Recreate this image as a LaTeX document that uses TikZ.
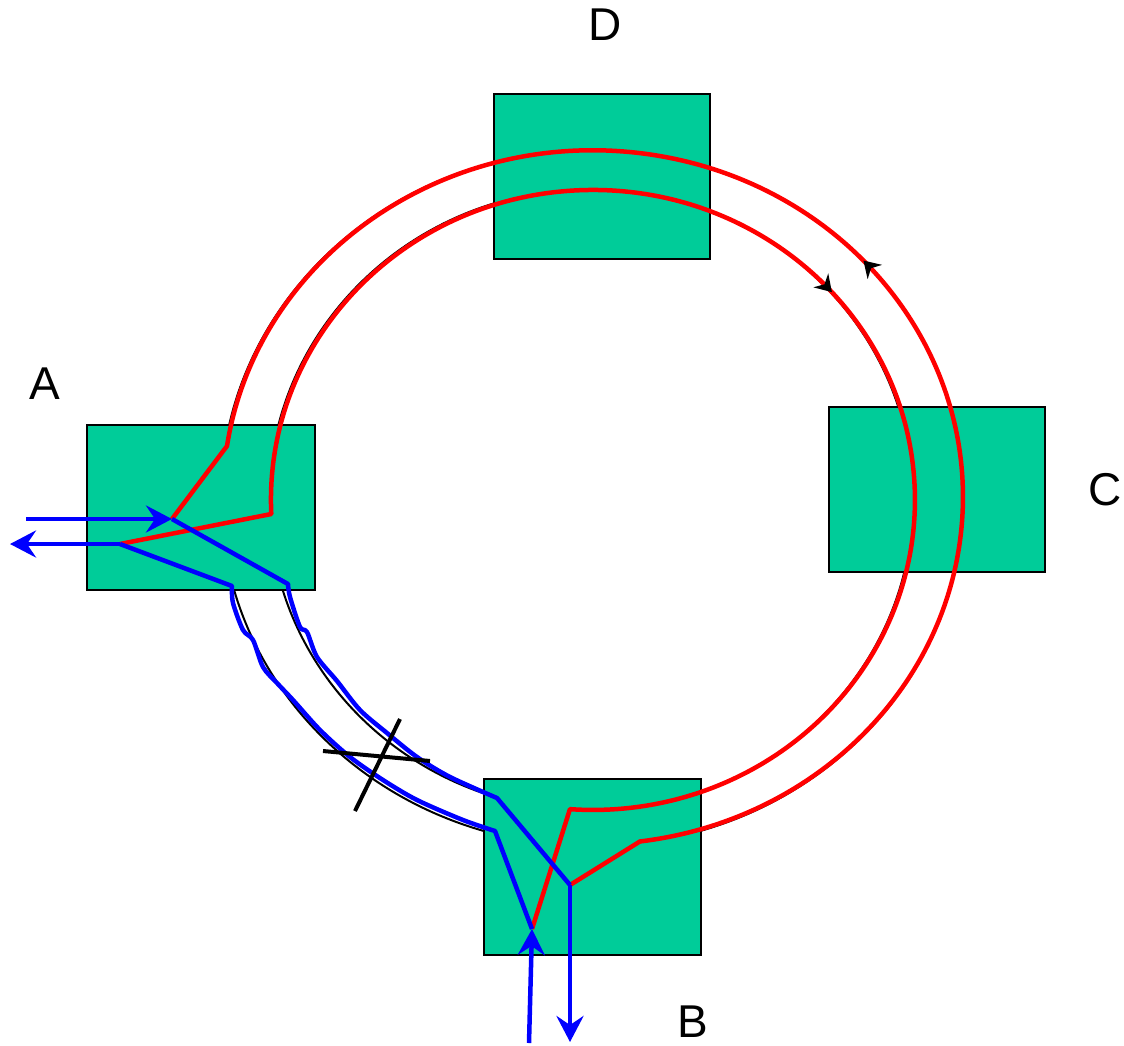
\documentclass[tikz,border=0pt]{standalone}
\usepackage{fontspec}
\setmainfont{Liberation Sans}
\usepackage{tikz}
\usetikzlibrary{
    calc,
    arrows.meta,
    decorations.markings
}
\definecolor{stationgreen}{RGB}{0,204,153}
\tikzset{
    station/.style={draw=black, line width=2.5pt, fill=stationgreen, inner sep=0pt,
        minimum width=216pt, minimum height=165pt},
    stationname/.style={font=\fontsize{46}{50}\selectfont, inner sep=0pt},
    ring/.style={black, line width=2pt},
    beam/.style={red, line width=4.5pt, line join=round},
    feed/.style={blue, line width=4.5pt, line join=round},
    feedarrow/.style={feed, -{Stealth[length=26pt, width=27pt, inset=9pt]}},
    marker/.style={black, line width=4pt}
}

\begin{document}
\begin{tikzpicture}[x=1pt, y=-1pt]
    \useasboundingbox (0,0) rectangle (1124,1045);

    % edges of the ring, mostly under the beams
    \draw[ring] (592,498) ellipse[x radius=371, y radius=348];
    \draw[ring] (591,500) ellipse[x radius=322, y radius=311];

    \node[station, minimum width=228pt] (A) at (201,507.5) {};
    \node[station, minimum width=217pt, minimum height=176pt] (B) at (592.5,867) {};
    \node[station] (C) at (937,489.5) {};
    \node[station] (D) at (602,176.5) {};

    \draw (45,384) node[stationname] (nameA) {A};
    \draw (692.5,1021.5) node[stationname] (nameB) {B};
    \draw (1105,490) node[stationname] (nameC) {C};
    \draw (605,25) node[stationname] (nameD) {D};

    \coordinate (aTip) at (172,519);
    \coordinate (aSplit) at (120,544);
    \coordinate (aInEnd) at (26,519);
    \coordinate (aOutEnd) at (10,544);
    \coordinate (bTip) at (532,929);
    \coordinate (bSplit) at (570,885);
    \coordinate (bInEnd) at (529,1043);
    \coordinate (bOutEnd) at (570,1042);

    % the two beams round the ring
    \draw[beam, postaction={decorate}, decoration={markings,
            mark=at position 903pt with {\arrowreversed{Stealth[length=16pt, width=20pt, color=black]}}}]
        (aTip) -- (227,446)
        arc[start angle=188.5, end angle=442.7, x radius=370, y radius=347] -- (bSplit);
    \draw[beam, postaction={decorate}, decoration={markings,
            mark=at position 932pt with {\arrow{Stealth[length=16pt, width=20pt, color=black]}}}]
        (aSplit) -- (271.3,514)
        arc[start angle=177.4, end angle=454.1, x radius=322, y radius=310] -- (bTip);

    % transfer lines from A to B
    \draw[feedarrow] (aInEnd) -- (aTip);
    \draw[feedarrow] (aSplit) -- (aOutEnd);
    \draw[feed] (aTip) -- plot[smooth, tension=0.5] coordinates {(288,584) (290,597) (300,627)
        (307,632) (317,657) (337,681) (360,710) (387,733) (417,757) (450,777) (497,798)} -- (bSplit);
    \draw[feed] (aSplit) -- plot[smooth, tension=0.5] coordinates {(232,586) (233,603) (243,630)
        (253,640) (263,667) (277,683) (293,700) (320,730) (350,757) (383,780) (417,800)
        (463,820) (495,831)} -- (bTip);
    \draw[feedarrow] (bInEnd) -- (bTip);
    \draw[feedarrow] (bSplit) -- (bOutEnd);

    % blocked
    \coordinate (cut1) at (323,751);
    \coordinate (cut2) at (430,761);
    \coordinate (cut3) at (400,719);
    \coordinate (cut4) at (355,811);
    \draw[marker] (cut1) -- (cut2);
    \draw[marker] (cut3) -- (cut4);
\end{tikzpicture}
\end{document}
